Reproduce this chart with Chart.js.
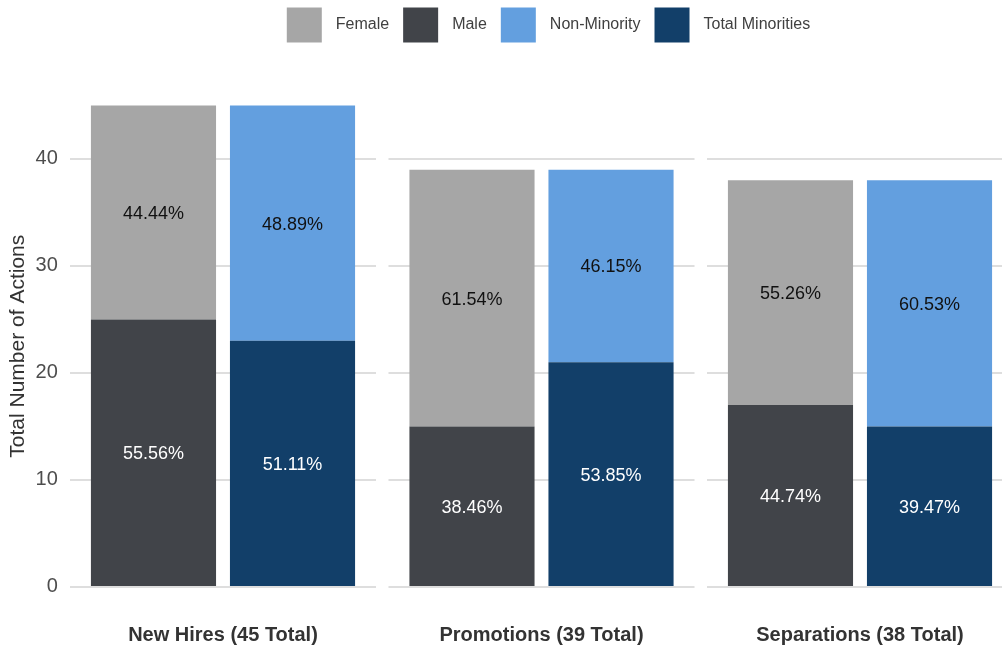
<!DOCTYPE html>
<html>
<head>
<meta charset="utf-8">
<script src="https://cdn.jsdelivr.net/npm/chart.js@4.4.1/dist/chart.umd.min.js"></script>
<style>
  html, body { margin: 0; padding: 0; background: #ffffff; overflow: hidden; width: 1002px; height: 645px; }
  canvas { display: block; }
</style>
</head>
<body>
<canvas id="chart" width="1020" height="645"></canvas>
<script>
// ---- data ----
const CATEGORIES = ['New Hires', 'Promotions', 'Separations'];
const TOTALS = [45, 39, 38];
const FEMALE = [20, 24, 21];
const MALE = [25, 15, 17];
const NON_MINORITY = [22, 18, 23];
const TOTAL_MINORITIES = [23, 21, 15];
const Y_TICKS = [0, 10, 20, 30, 40];
const LEGEND_ORDER = ['Female', 'Male', 'Non-Minority', 'Total Minorities'];

const FONT = '"Liberation Sans", Arial, sans-serif';
Chart.defaults.font.family = FONT;

const labels = CATEGORIES.map((c, i) => `${c} (${TOTALS[i]} Total)`);

// white gaps between facet panels (breaks the gridlines like ggplot facets)
const panelGaps = {
  id: 'panelGaps',
  beforeDatasetsDraw(chart, args, opts) {
    const xs = chart.scales.x;
    const { top, bottom, left, right } = chart.chartArea;
    const step = xs.getPixelForValue(1) - xs.getPixelForValue(0);
    const half = step * opts.fraction / 2;
    const ctx = chart.ctx;
    ctx.save();
    ctx.fillStyle = '#ffffff';
    let prev = left - 2;
    for (let i = 0; i < CATEGORIES.length; i++) {
      const c = xs.getPixelForValue(i);
      ctx.fillRect(prev, top - 2, (c - half) - prev, bottom - top + 4);
      prev = c + half;
    }
    ctx.fillRect(prev, top - 2, right + 2 - prev, bottom - top + 4);
    ctx.restore();
  }
};

// percentage labels in the middle of each segment
const barLabels = {
  id: 'barLabels',
  afterDatasetsDraw(chart) {
    const ctx = chart.ctx;
    const size = 18;
    ctx.save();
    ctx.font = size + 'px ' + FONT;
    ctx.textAlign = 'center';
    ctx.textBaseline = 'alphabetic';
    chart.data.datasets.forEach((ds, di) => {
      const meta = chart.getDatasetMeta(di);
      meta.data.forEach((el, i) => {
        const { x, y, base } = el.getProps(['x', 'y', 'base'], true);
        ctx.fillStyle = ds.labelColor;
        ctx.fillText((ds.data[i] / TOTALS[i] * 100).toFixed(2) + '%', x, (y + base) / 2 + size * 0.36);
      });
    });
    ctx.restore();
  }
};

// centre the legend over the panels
const legendOverPanels = {
  id: 'legendOverPanels',
  beforeDraw(chart) {
    if (chart.legend) {
      chart.legend.left = chart.chartArea.left + 4;
      chart.legend.right = chart.chartArea.right + 4;
    }
  }
};

const common = { borderWidth: 0, categoryPercentage: 0.873, barPercentage: 0.9 };

new Chart(document.getElementById('chart'), {
  type: 'bar',
  data: {
    labels,
    datasets: [
      { ...common, label: 'Male', data: MALE, stack: 'gender', backgroundColor: '#414449', labelColor: '#ffffff' },
      { ...common, label: 'Female', data: FEMALE, stack: 'gender', backgroundColor: '#a6a6a6', labelColor: '#111111' },
      { ...common, label: 'Total Minorities', data: TOTAL_MINORITIES, stack: 'minority', backgroundColor: '#123f69', labelColor: '#ffffff' },
      { ...common, label: 'Non-Minority', data: NON_MINORITY, stack: 'minority', backgroundColor: '#639fdf', labelColor: '#111111' }
    ]
  },
  plugins: [panelGaps, barLabels, legendOverPanels],
  options: {
    responsive: false,
    animation: false,
    layout: { padding: { top: -6.5, left: 0, right: 0.75, bottom: 0 } },
    plugins: {
      tooltip: { enabled: false },
      panelGaps: { fraction: 0.9608 },
      legend: {
        position: 'top',
        labels: {
          boxWidth: 47,
          boxHeight: 47,
          padding: 8,
          color: '#404040',
          font: { size: 16, family: FONT },
          generateLabels(chart) {
            return LEGEND_ORDER.map(name => {
              const i = chart.data.datasets.findIndex(d => d.label === name);
              const ds = chart.data.datasets[i];
              return {
                text: name,
                fillStyle: ds.backgroundColor,
                strokeStyle: '#ffffff',
                lineWidth: 12,
                lineJoin: 'miter',
                hidden: !chart.isDatasetVisible(i),
                datasetIndex: i,
                fontColor: '#404040'
              };
            });
          }
        }
      }
    },
    scales: {
      x: {
        stacked: true,
        grid: { display: false },
        border: { display: false },
        ticks: { color: '#333333', padding: 4, font: { size: 20, weight: 'bold', family: FONT } },
        afterFit(s) { s.height = 34; }
      },
      pad: {
        type: 'linear',
        position: 'top',
        display: true,
        grid: { display: false },
        border: { display: false },
        ticks: { display: false },
        afterFit(s) { s.height = 22.9; }
      },
      y: {
        stacked: true,
        min: -2.25,
        max: 47.25,
        afterBuildTicks(s) { s.ticks = Y_TICKS.map(v => ({ value: v })); },
        grid: { color: '#dedede', lineWidth: 2, drawTicks: false },
        border: { display: false },
        ticks: { color: '#4d4d4d', padding: 6, font: { size: 20, family: FONT } },
        title: {
          display: true,
          text: 'Total Number of Actions',
          color: '#333333',
          font: { size: 21, family: FONT },
          padding: { top: 6, bottom: 0 }
        },
        afterFit(s) { s.width = 63.75; }
      }
    }
  }
});
</script>
</body>
</html>
